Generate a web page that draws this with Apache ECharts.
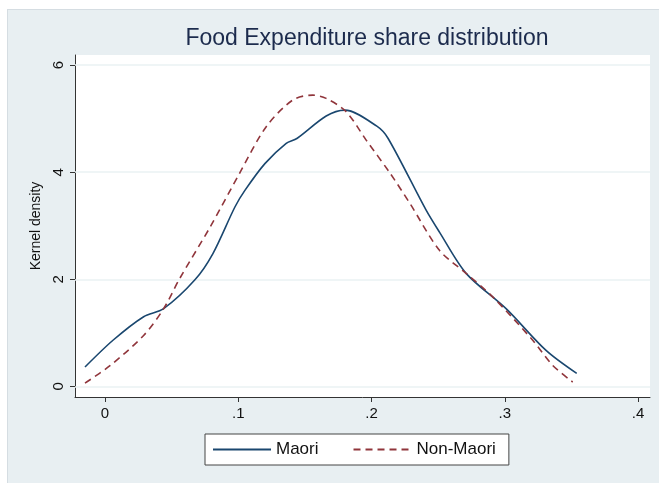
<!DOCTYPE html>
<html>
<head>
<meta charset="utf-8">
<script src="https://cdn.jsdelivr.net/npm/echarts@6/dist/echarts.min.js"></script>
<style>
  html, body { margin: 0; padding: 0; background: #fff; }
  #wrap { position: relative; width: 659px; height: 483px; }
  #bg { position: absolute; left: 7px; top: 9px; right: 0; bottom: 0; background: #e8eff2; border-left: 1px solid #d5dde2; border-top: 1px solid #d5dde2; }
  #chart { position: absolute; left: 0; top: 0; width: 659px; height: 483px; }
</style>
</head>
<body>
<div id="wrap">
  <div id="bg"></div>
  <div id="chart"></div>
</div>
<script>
// kernel density estimates
const maoriX = [-0.015, 0.006, 0.029, 0.044, 0.0675, 0.081, 0.0975, 0.105, 0.12, 0.136, 0.144, 0.166, 0.18, 0.204, 0.2125, 0.241, 0.251, 0.271, 0.301, 0.331, 0.354];
const maoriY = [0.36, 0.86, 1.30, 1.45, 1.99, 2.48, 3.35, 3.66, 4.16, 4.54, 4.63, 5.05, 5.16, 4.86, 4.63, 3.29, 2.88, 2.11, 1.45, 0.67, 0.24];

const nonMaoriX = [-0.015, 0.004, 0.029, 0.044, 0.056, 0.079, 0.101, 0.121, 0.141, 0.156, 0.166, 0.181, 0.196, 0.214, 0.229, 0.251, 0.271, 0.291, 0.321, 0.336, 0.351];
const nonMaoriY = [0.06, 0.39, 0.95, 1.45, 2.01, 2.98, 3.98, 4.85, 5.35, 5.44, 5.38, 5.13, 4.60, 3.98, 3.41, 2.54, 2.11, 1.67, 0.86, 0.39, 0.08];

const xTicks = [0, 0.1, 0.2, 0.3, 0.4];
const xTickLabels = ["0", ".1", ".2", ".3", ".4"];
const yTicks = [0, 2, 4, 6];

const chart = echarts.init(document.getElementById("chart"));

const zip = (xs, ys) => xs.map((x, i) => [x, ys[i]]);

const option = {
  animation: false,
  title: {
    text: "Food Expenditure share distribution",
    left: 362,
    textAlign: "center",
    top: 22,
    textStyle: { fontFamily: "Liberation Sans", fontSize: 23, fontWeight: "normal", color: "#1c2b4d" },
  },
  grid: {
    left: 75, right: 9, top: 55, bottom: 86,
    show: true, backgroundColor: "#fff", borderWidth: 0,
  },
  xAxis: {
    type: "value",
    min: -0.0225,
    max: 0.409,
    axisLine: { show: true, onZero: false, lineStyle: { color: "#333", width: 1 } },
    axisTick: { show: true, customValues: xTicks, length: 5, lineStyle: { color: "#333" } },
    axisLabel: {
      customValues: xTicks,
      formatter: (v) => xTickLabels[xTicks.findIndex((t) => Math.abs(t - v) < 1e-9)],
      fontFamily: "Liberation Sans", fontSize: 15, color: "#111", margin: 9,
    },
    splitLine: { show: false },
  },
  yAxis: {
    type: "value",
    min: -0.2,
    max: 6.19,
    name: "Kernel density",
    nameLocation: "middle",
    nameRotate: 90,
    nameGap: 32,
    nameTextStyle: { fontFamily: "Liberation Sans", fontSize: 14, color: "#111" },
    axisLine: { show: true, onZero: false, lineStyle: { color: "#333", width: 1 } },
    axisTick: { show: true, customValues: yTicks, length: 5, lineStyle: { color: "#333" } },
    axisLabel: {
      customValues: yTicks,
      rotate: 90,
      fontFamily: "Liberation Sans", fontSize: 15, color: "#111", margin: 9,
    },
    splitLine: { show: false },
  },
  legend: {
    left: 205,
    top: 434,
    padding: [7, 13, 7, 7],
    itemGap: 34,
    itemWidth: 58,
    itemHeight: 10,
    backgroundColor: "#fff",
    borderColor: "#444",
    borderWidth: 1,
    borderRadius: 0,
    itemStyle: { opacity: 0 },
    textStyle: { fontFamily: "Liberation Sans", fontSize: 17, color: "#111" },
    data: ["Maori", "Non-Maori"],
  },
  series: [
    {
      name: "Maori",
      type: "line",
      data: zip(maoriX, maoriY),
      smooth: 0.3,
      symbol: "none",
      lineStyle: { color: "#1a476f", width: 1.6 },
      itemStyle: { color: "#1a476f" },
      markLine: {
        silent: true,
        symbol: "none",
        label: { show: false },
        lineStyle: { color: "#eaf2f3", type: "solid", width: 1.5 },
        data: yTicks.map((t) => ({ yAxis: t })),
        z: 1,
      },
    },
    {
      name: "Non-Maori",
      type: "line",
      data: zip(nonMaoriX, nonMaoriY),
      smooth: 0.3,
      symbol: "none",
      lineStyle: { color: "#90353b", width: 1.6, type: [7, 5] },
      itemStyle: { color: "#90353b" },
    },
  ],
};

chart.setOption(option);
</script>
</body>
</html>
